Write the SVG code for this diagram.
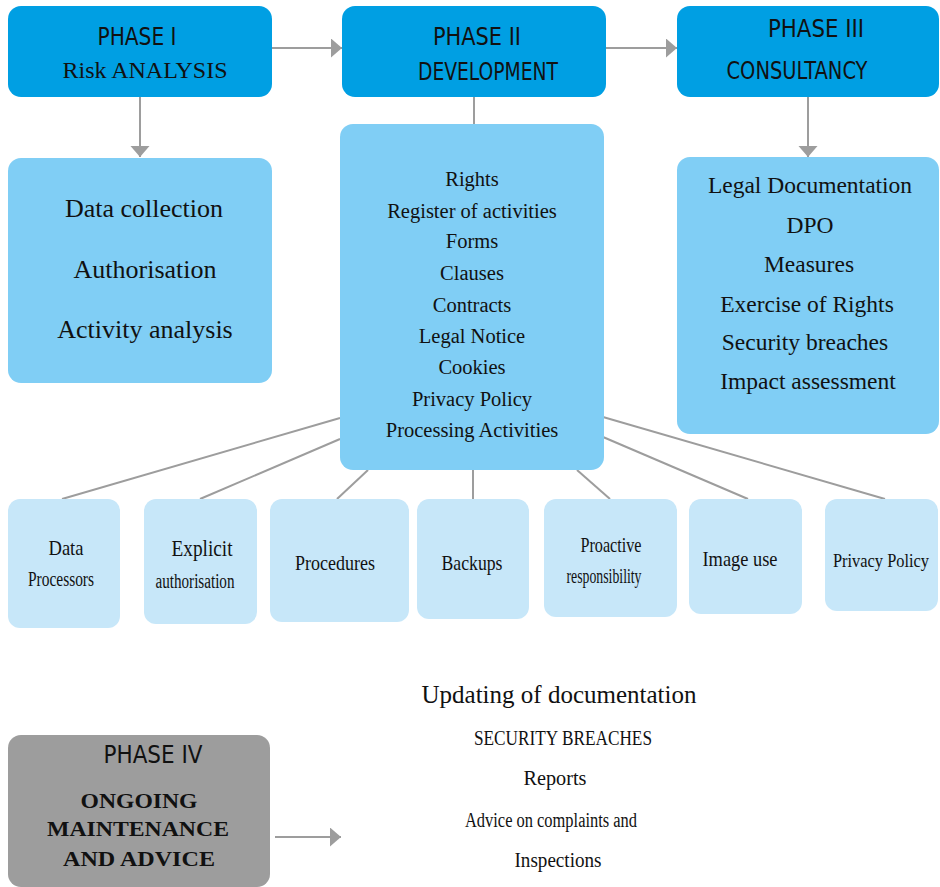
<svg xmlns="http://www.w3.org/2000/svg" width="940" height="887" viewBox="0 0 940 887">
<defs>
<style>
.hdr{fill:#009fe3}
.cnt{fill:#80cef5}
.sm{fill:#c7e7f9}
.gray{fill:#9d9d9d}
.sans{font-family:"DejaVu Sans Condensed","DejaVu Sans",sans-serif;fill:#111;text-anchor:middle}
.serif{font-family:"Liberation Serif","Times New Roman",serif;fill:#111;text-anchor:middle}
.bold{font-weight:bold}
.ln{stroke:#9d9d9d;stroke-width:2;fill:none}
</style>
<marker id="ah" markerUnits="userSpaceOnUse" markerWidth="12" markerHeight="20" refX="11" refY="9.5" orient="auto">
<path d="M0,0 L11,9.5 L0,19 z" fill="#9d9d9d"/>
</marker>
</defs>
<rect width="940" height="887" fill="#ffffff"/>

<g id="connectors">
<line class="ln" x1="272" y1="48" x2="342" y2="48" marker-end="url(#ah)"/>
<line class="ln" x1="606" y1="48" x2="677" y2="48" marker-end="url(#ah)"/>
<line class="ln" x1="140" y1="97" x2="140" y2="157" marker-end="url(#ah)"/>
<line class="ln" x1="808" y1="97" x2="808" y2="157" marker-end="url(#ah)"/>
<line class="ln" x1="474" y1="97" x2="474" y2="124"/>
<line class="ln" x1="340" y1="418" x2="62" y2="499"/>
<line class="ln" x1="340" y1="439" x2="200" y2="499"/>
<line class="ln" x1="368" y1="470" x2="337" y2="499"/>
<line class="ln" x1="473" y1="470" x2="473" y2="499"/>
<line class="ln" x1="577" y1="470" x2="610" y2="499"/>
<line class="ln" x1="603" y1="437" x2="748" y2="499"/>
<line class="ln" x1="603" y1="417" x2="885" y2="499"/>
<line class="ln" x1="275" y1="837" x2="341" y2="837" marker-end="url(#ah)"/>
</g>

<g id="phase1">
<rect class="hdr" x="8" y="6" width="264" height="91" rx="13"/>
<text class="sans" x="137" y="45" font-size="25" textLength="79" lengthAdjust="spacingAndGlyphs">PHASE I</text>
<text class="serif" x="145" y="78" font-size="23" textLength="165" lengthAdjust="spacingAndGlyphs">Risk ANALYSIS</text>
</g>

<g id="phase2">
<rect class="hdr" x="342" y="6" width="264" height="91" rx="13"/>
<text class="sans" x="477" y="45" font-size="25" textLength="88" lengthAdjust="spacingAndGlyphs">PHASE II</text>
<text class="sans" x="488" y="80" font-size="24" textLength="140" lengthAdjust="spacingAndGlyphs">DEVELOPMENT</text>
</g>

<g id="phase3">
<rect class="hdr" x="677" y="6" width="262" height="91" rx="13"/>
<text class="sans" x="816" y="37" font-size="25" textLength="96" lengthAdjust="spacingAndGlyphs">PHASE III</text>
<text class="sans" x="797" y="79" font-size="24" textLength="141" lengthAdjust="spacingAndGlyphs">CONSULTANCY</text>
</g>

<g id="phase1-content">
<rect class="cnt" x="8" y="158" width="264" height="225" rx="13"/>
<text class="serif" x="144" y="217" font-size="26">Data collection</text>
<text class="serif" x="145" y="278" font-size="26">Authorisation</text>
<text class="serif" x="145" y="338" font-size="26">Activity analysis</text>
</g>

<g id="phase2-content">
<rect class="cnt" x="340" y="124" width="264" height="346" rx="13"/>
<text class="serif" x="472" y="186" font-size="20.5">Rights</text>
<text class="serif" x="472" y="218" font-size="20.5">Register of activities</text>
<text class="serif" x="472" y="248" font-size="20.5">Forms</text>
<text class="serif" x="472" y="280" font-size="20.5">Clauses</text>
<text class="serif" x="472" y="312" font-size="20.5">Contracts</text>
<text class="serif" x="472" y="343" font-size="20.5">Legal Notice</text>
<text class="serif" x="472" y="374" font-size="20.5">Cookies</text>
<text class="serif" x="472" y="406" font-size="20.5">Privacy Policy</text>
<text class="serif" x="472" y="437" font-size="20.5">Processing Activities</text>
</g>

<g id="phase3-content">
<rect class="cnt" x="677" y="157" width="262" height="277" rx="13"/>
<text class="serif" x="810" y="193" font-size="23.5">Legal Documentation</text>
<text class="serif" x="810" y="233" font-size="23.5">DPO</text>
<text class="serif" x="809" y="272" font-size="23.5">Measures</text>
<text class="serif" x="807" y="312" font-size="23.5">Exercise of Rights</text>
<text class="serif" x="805" y="350" font-size="23.5">Security breaches</text>
<text class="serif" x="808" y="389" font-size="23.5">Impact assessment</text>
</g>

<g id="data-processors">
<rect class="sm" x="8" y="499" width="112" height="129" rx="12"/>
<text class="serif" x="66" y="555" font-size="21" textLength="35" lengthAdjust="spacingAndGlyphs">Data</text>
<text class="serif" x="61" y="586" font-size="21" textLength="66" lengthAdjust="spacingAndGlyphs">Processors</text>
</g>

<g id="explicit-authorisation">
<rect class="sm" x="144" y="499" width="113" height="125" rx="12"/>
<text class="serif" x="202" y="556" font-size="23" textLength="61" lengthAdjust="spacingAndGlyphs">Explicit</text>
<text class="serif" x="195" y="588" font-size="20" textLength="79" lengthAdjust="spacingAndGlyphs">authorisation</text>
</g>

<g id="procedures">
<rect class="sm" x="270" y="499" width="139" height="123" rx="12"/>
<text class="serif" x="335" y="570" font-size="22" textLength="80" lengthAdjust="spacingAndGlyphs">Procedures</text>
</g>

<g id="backups">
<rect class="sm" x="417" y="499" width="112" height="120" rx="12"/>
<text class="serif" x="472" y="570" font-size="22" textLength="61" lengthAdjust="spacingAndGlyphs">Backups</text>
</g>

<g id="proactive-responsibility">
<rect class="sm" x="544" y="499" width="133" height="118" rx="12"/>
<text class="serif" x="611" y="552" font-size="21" textLength="61" lengthAdjust="spacingAndGlyphs">Proactive</text>
<text class="serif" x="604" y="583" font-size="20" textLength="75" lengthAdjust="spacingAndGlyphs">responsibility</text>
</g>

<g id="image-use">
<rect class="sm" x="689" y="499" width="113" height="115" rx="12"/>
<text class="serif" x="740" y="566" font-size="22" textLength="75" lengthAdjust="spacingAndGlyphs">Image use</text>
</g>

<g id="privacy-policy">
<rect class="sm" x="825" y="499" width="113" height="112" rx="12"/>
<text class="serif" x="881" y="567" font-size="18" textLength="96" lengthAdjust="spacingAndGlyphs">Privacy Policy</text>
</g>

<g id="phase4">
<rect class="gray" x="8" y="735" width="262" height="152" rx="13"/>
<text class="sans" x="153" y="763" font-size="25" textLength="99" lengthAdjust="spacingAndGlyphs">PHASE IV</text>
<text class="serif bold" x="139" y="808" font-size="22" textLength="117" lengthAdjust="spacingAndGlyphs">ONGOING</text>
<text class="serif bold" x="138" y="836" font-size="22" textLength="182" lengthAdjust="spacingAndGlyphs">MAINTENANCE</text>
<text class="serif bold" x="139" y="866" font-size="22" textLength="152" lengthAdjust="spacingAndGlyphs">AND ADVICE</text>
</g>

<g id="phase4-content">
<text class="serif" x="559" y="703" font-size="25" textLength="275" lengthAdjust="spacingAndGlyphs">Updating of documentation</text>
<text class="serif" x="563" y="745" font-size="20" textLength="178" lengthAdjust="spacingAndGlyphs">SECURITY BREACHES</text>
<text class="serif" x="555" y="785" font-size="22" textLength="63" lengthAdjust="spacingAndGlyphs">Reports</text>
<text class="serif" x="551" y="827" font-size="20" textLength="172" lengthAdjust="spacingAndGlyphs">Advice on complaints and</text>
<text class="serif" x="558" y="867" font-size="22" textLength="87" lengthAdjust="spacingAndGlyphs">Inspections</text>
</g>
</svg>
